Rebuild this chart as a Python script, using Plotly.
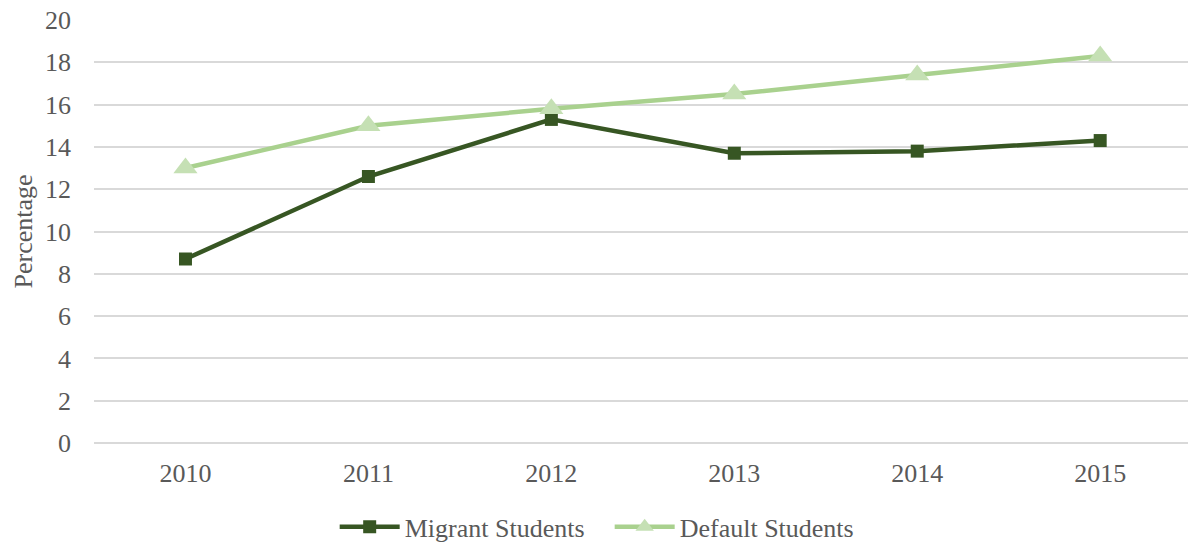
import plotly.graph_objects as go

# Share of students by year (percent)
years = ["2010", "2011", "2012", "2013", "2014", "2015"]
migrant = [8.7, 12.6, 15.3, 13.7, 13.8, 14.3]
default = [13.0, 15.0, 15.8, 16.5, 17.4, 18.3]
y_ticks = [0, 2, 4, 6, 8, 10, 12, 14, 16, 18, 20]

FONT = "Liberation Serif, Times New Roman, serif"
TEXT = "#595959"
GRID = "#D9D9D9"
FS = 26

fig = go.Figure()
fig.add_trace(go.Scatter(
    x=years, y=migrant, name="Migrant Students", mode="lines+markers",
    line=dict(color="#375623", width=4.5),
    marker=dict(symbol="square", size=13, color="#375623"),
))
fig.add_trace(go.Scatter(
    x=years, y=default, name="Default Students", mode="lines+markers",
    line=dict(color="#A9D18E", width=4.5),
    marker=dict(symbol="triangle-up", size=21, color="#C5E0B4"),
))

fig.update_layout(
    width=1188, height=544,
    margin=dict(l=94, r=0, t=20, b=101, autoexpand=False),
    paper_bgcolor="white", plot_bgcolor="white",
    font=dict(family=FONT, size=FS, color=TEXT),
    legend=dict(orientation="h", x=0.22, xanchor="left", y=-0.198, yanchor="middle",
                font=dict(family=FONT, size=FS, color=TEXT), itemwidth=60,
                entrywidth=200, entrywidthmode="pixels",
                traceorder="normal"),
    xaxis=dict(type="category", range=[-0.5, 5.48], showgrid=False, zeroline=False,
               showline=False, ticks="", ticklabelstandoff=12,
               tickfont=dict(family=FONT, size=FS, color=TEXT)),
    yaxis=dict(range=[0, 20], tickvals=y_ticks, showgrid=True, gridcolor=GRID,
               gridwidth=1.5, zeroline=True, zerolinecolor=GRID, zerolinewidth=1.5,
               showline=False, ticks="", ticklabelstandoff=22,
               tickfont=dict(family=FONT, size=FS, color=TEXT),
               title=dict(text="Percentage", standoff=4,
                          font=dict(family=FONT, size=FS, color=TEXT))),
)

fig.write_html("out.html")
